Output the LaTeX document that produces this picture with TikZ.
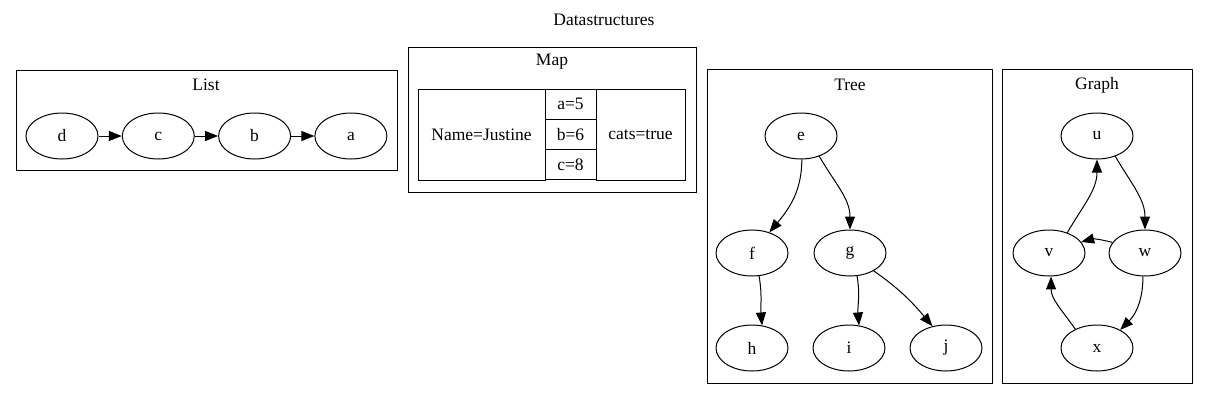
\documentclass[tikz,border=0pt]{standalone}
\usepackage{fontspec}
\setmainfont{Liberation Serif}
\usetikzlibrary{shapes.geometric, arrows.meta, positioning}

\begin{document}
\begin{tikzpicture}[x=1pt,y=-1pt,line width=1pt,font=\fontsize{17.5}{20}\selectfont,
    vertex/.style={ellipse,draw,minimum width=72pt,minimum height=46pt,inner sep=0pt},
    cell/.style={rectangle,draw,inner sep=0pt},
    arc/.style={-{Triangle[length=13pt,width=10pt]}}]
    \useasboundingbox (0,0) rectangle (1208,400);
    \node (title) at (604,20) {Datastructures};
    % List
    \draw (16,70) rectangle (397,170);
    \node (T-list) at (206,85) {List};
    \foreach \X [count=\Y] in {d,c,b,a}
        {\node[vertex] (\X) at ({62+96.3*(\Y-1)},136) {\X};}
    \foreach \X/\Z in {d/c,c/b,b/a}
        {\draw[arc] (\X) -- (\Z);}
    % Map
    \draw (408,47) rectangle (696,192);
    \node (T-map) at (552,62) {Map};
    \node[cell,minimum width=127pt,minimum height=91pt] (name) at (481.5,134.5) {Name=Justine};
    \node[cell,minimum width=51pt,minimum height=30.3pt] (a5) at (570.5,104.2) {a=5};
    \node[cell,minimum width=51pt,minimum height=30.3pt] (b6) at (570.5,134.5) {b=6};
    \node[cell,minimum width=51pt,minimum height=30.3pt] (c8) at (570.5,164.8) {c=8};
    \node[cell,minimum width=89pt,minimum height=91pt] (cats) at (640.5,134.5) {cats=true};
    % Tree
    \draw (707,69) rectangle (992,383);
    \node (T-tree) at (850,85) {Tree};
    \node[vertex] (e) at (801,136) {e};
    \node[vertex] (f) at (752,253) {f};
    \node[vertex] (g) at (850,253) {g};
    \node[vertex] (h) at (752,348) {h};
    \node[vertex] (i) at (849,348) {i};
    \node[vertex] (j) at (946,348) {j};
    \draw[arc] (e.-88) to[out=-90,in=50] (f.50);
    \draw[arc] (e.-48) to[out=-60,in=90] (g.90);
    \draw[arc] (f.-73) to[out=-80,in=95] (h.66);
    \draw[arc] (g.-73) to[out=-80,in=95] (i.66);
    \draw[arc] (g.-37) to[out=-35,in=130] (j.122);
    % Graph
    \draw (1002,69) rectangle (1192,383);
    \node (T-graph) at (1097,85) {Graph};
    \node[vertex] (u) at (1097,136) {u};
    \node[vertex] (v) at (1049,253) {v};
    \node[vertex] (w) at (1145,253) {w};
    \node[vertex] (x) at (1097,348) {x};
    \draw[arc] (v.48) to[out=60,in=-90] (u.-90);
    \draw[arc] (u.-48) to[out=-60,in=90] (w.90);
    \draw[arc] (w.162) to[out=165,in=15] (v.19);
    \draw[arc] (w.-95) to[out=-90,in=45] (x.38);
    \draw[arc] (x.139) to[out=125,in=-90] (v.-85);
\end{tikzpicture}
\end{document}
